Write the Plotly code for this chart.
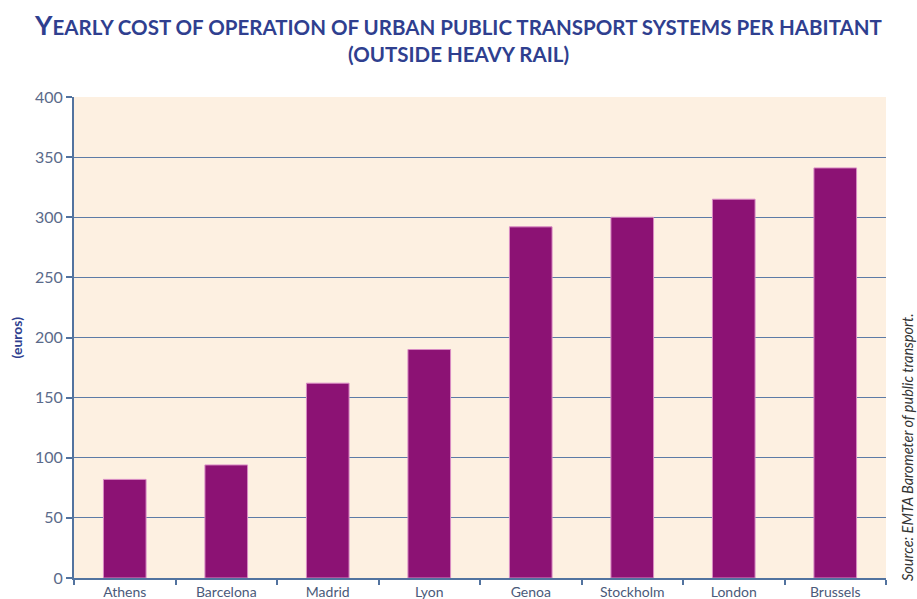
import plotly.graph_objects as go

cities = ["Athens", "Barcelona", "Madrid", "Lyon", "Genoa", "Stockholm", "London", "Brussels"]
cost_per_habitant = [82, 94, 162, 190, 292, 300, 315, 341]
y_ticks = [0, 50, 100, 150, 200, 250, 300, 350, 400]

axis_blue = "#52739f"
title_blue = "#2f3f8f"
font_family = "Lato, 'Open Sans', sans-serif"

fig = go.Figure(
    go.Bar(
        x=cities,
        y=cost_per_habitant,
        width=0.42,
        marker=dict(color="#8c1274", line=dict(color="#d98cc4", width=1)),
    )
)

fig.update_layout(
    width=917,
    height=599,
    margin=dict(l=74, r=31, t=97, b=21),
    paper_bgcolor="white",
    plot_bgcolor="#fdf0e1",
    font=dict(family=font_family, color=axis_blue, size=13),
    showlegend=False,
)

# Two-line small-caps style heading, centred on the page
fig.add_annotation(
    text="<b><span style='font-size:27px'>Y</span>EARLY COST OF OPERATION OF URBAN PUBLIC TRANSPORT SYSTEMS PER HABITANT</b>",
    xref="paper", yref="paper", x=0.473, y=1.0, yshift=73,
    xanchor="center", yanchor="middle", showarrow=False,
    font=dict(family=font_family, size=20.5, color=title_blue),
)
fig.add_annotation(
    text="<b>(OUTSIDE HEAVY RAIL)</b>",
    xref="paper", yref="paper", x=0.473, y=1.0, yshift=43,
    xanchor="center", yanchor="middle", showarrow=False,
    font=dict(family=font_family, size=20.5, color=title_blue),
)

fig.update_xaxes(
    type="category",
    automargin=False,
    showline=True,
    linecolor=axis_blue,
    linewidth=2,
    ticks="outside",
    tickson="boundaries",
    ticklen=5,
    tickcolor=axis_blue,
    tickwidth=1.5,
    showgrid=False,
    tickfont=dict(size=14, color="#4a5a7a"),
)

fig.update_yaxes(
    range=[0, 400],
    tickvals=y_ticks,
    automargin=False,
    showline=True,
    linecolor=axis_blue,
    linewidth=2,
    ticks="outside",
    ticklen=6,
    tickcolor=axis_blue,
    tickwidth=1.5,
    showgrid=True,
    gridcolor="#5d7ba6",
    gridwidth=1.2,
    zeroline=False,
    tickfont=dict(size=16, color="#5a6a8a"),
)

fig.add_annotation(
    text="<b>(euros)</b>",
    xref="paper", yref="paper", x=0, xshift=-58, y=0.5,
    xanchor="center", yanchor="middle", textangle=-90, showarrow=False,
    font=dict(family=font_family, size=14, color=title_blue),
)

fig.add_annotation(
    text="<i>Source: EMTA Barometer of public transport.</i>",
    xref="paper", yref="paper", x=1.0, xshift=21, y=0.0, yshift=-5,
    xanchor="center", yanchor="bottom", textangle=-90, showarrow=False,
    font=dict(family=font_family, size=14.5, color="#333333"),
)

fig.write_html("out.html")
